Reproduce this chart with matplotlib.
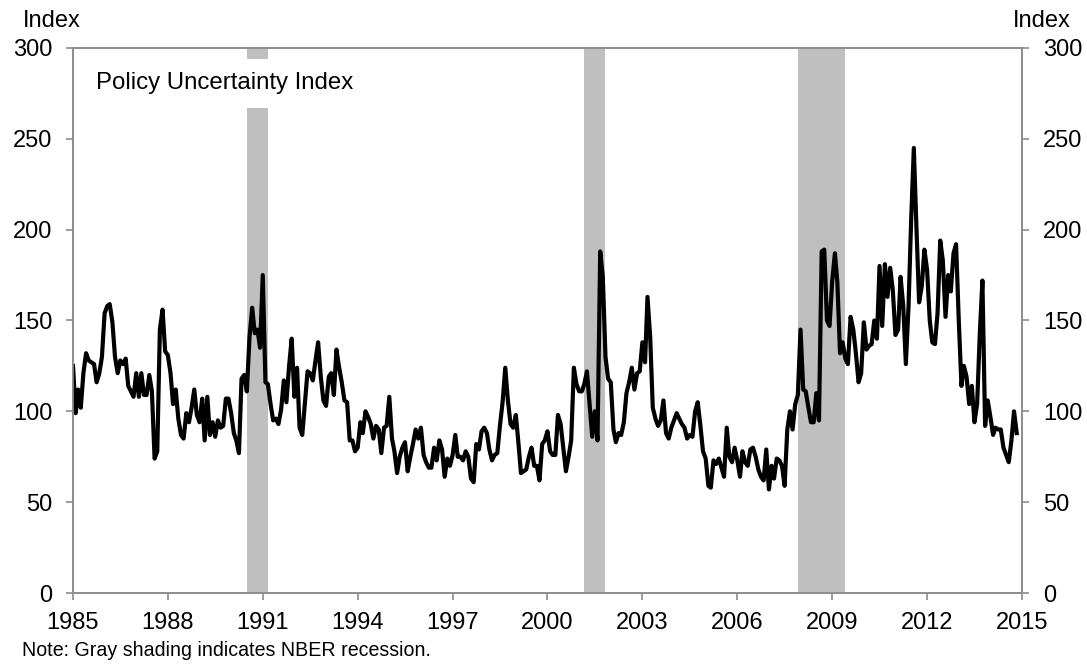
import pandas as pd
import matplotlib
matplotlib.use('Agg')
import matplotlib.pyplot as plt
import matplotlib.dates as mdates

plt.rcParams['font.family'] = ['Liberation Sans', 'DejaVu Sans']

# Monthly policy uncertainty index (Jan 1985 - Nov 2014)
epu_1985_1994 = [125, 99, 112, 102, 121, 132, 128, 127, 126, 116, 121, 130,
                 154, 158, 159, 149, 130, 121, 128, 126, 129, 114, 111, 108,
                 121, 108, 121, 109, 109, 120, 111, 74, 78, 145, 156, 133,
                 131, 121, 104, 112, 96, 87, 85, 99, 94, 102, 112, 98,
                 94, 107, 84, 108, 87, 94, 86, 95, 91, 92, 107, 107,
                 99, 88, 84, 77, 118, 120, 111, 141, 157, 143, 145, 135,
                 175, 116, 115, 104, 95, 96, 93, 101, 117, 105, 125, 140,
                 108, 124, 91, 87, 104, 122, 121, 117, 128, 138, 119, 106,
                 103, 119, 121, 109, 134, 124, 116, 106, 105, 84, 84, 78,
                 80, 94, 88, 100, 97, 93, 85, 92, 90, 77, 91, 92]
epu_1995_2004 = [108, 85, 78, 66, 75, 80, 83, 67, 75, 82, 90, 85,
                 91, 76, 72, 69, 69, 80, 73, 84, 79, 64, 74, 70,
                 76, 87, 75, 75, 73, 78, 75, 63, 61, 82, 79, 89,
                 91, 88, 79, 73, 76, 77, 92, 105, 124, 106, 93, 91,
                 98, 82, 66, 67, 68, 75, 80, 70, 70, 62, 82, 84,
                 89, 78, 76, 76, 98, 93, 80, 67, 75, 84, 124, 115,
                 111, 111, 115, 122, 104, 86, 100, 84, 188, 174, 130, 118,
                 116, 90, 83, 88, 87, 94, 110, 116, 124, 112, 121, 122,
                 138, 127, 163, 141, 102, 96, 92, 95, 106, 88, 85, 91,
                 95, 99, 96, 93, 91, 85, 87, 86, 100, 105, 92, 78]
epu_2005_2014 = [74, 59, 58, 73, 71, 74, 69, 64, 91, 75, 72, 80,
                 73, 64, 78, 72, 70, 79, 80, 75, 68, 64, 62, 79,
                 57, 70, 63, 74, 73, 70, 59, 90, 100, 90, 104, 109,
                 145, 112, 111, 102, 94, 94, 110, 95, 188, 189, 150, 147,
                 172, 187, 171, 132, 138, 129, 126, 152, 145, 132, 116, 121,
                 149, 134, 136, 137, 150, 140, 180, 147, 181, 163, 179, 167,
                 142, 145, 174, 158, 126, 158, 205, 245, 200, 160, 169, 189,
                 178, 150, 138, 137, 154, 194, 183, 152, 175, 166, 187, 192,
                 150, 114, 125, 119, 104, 114, 94, 104, 143, 172, 92, 106,
                 97, 87, 91, 90, 90, 80, 76, 72, 84, 100, 88]

# NBER recessions
rec_start = ['1990-07-01', '2001-03-01', '2007-12-01']
rec_end = ['1991-03-01', '2001-11-01', '2009-06-01']

year_ticks = list(range(1985, 2016, 3))
y_ticks = [0, 50, 100, 150, 200, 250, 300]

epu = epu_1985_1994 + epu_1995_2004 + epu_2005_2014
dates = pd.date_range('1985-01-01', periods=len(epu), freq='MS')

grey = '#8c8c8c'
fig = plt.figure(figsize=(10.87, 6.67), dpi=100)
ax = fig.add_axes([73 / 1087, 1 - 593 / 667, (1022 - 73) / 1087, (593 - 48) / 667])

for s, e in zip(rec_start, rec_end):
    ax.axvspan(pd.Timestamp(s), pd.Timestamp(e), color='#bfbfbf', lw=0, zorder=1)

ax.plot(dates, epu, color='black', lw=3.0, zorder=3, solid_joinstyle='round')

ax.set_xlim(pd.Timestamp('1985-01-01'), pd.Timestamp('2015-01-01'))
ax.set_ylim(0, 300)
ax.set_xticks([pd.Timestamp(f'{y}-01-01') for y in year_ticks])
ax.xaxis.set_major_formatter(mdates.DateFormatter('%Y'))
ax.set_yticks(y_ticks)

ax2 = ax.twinx()
ax2.set_ylim(0, 300)
ax2.set_yticks(y_ticks)

for a in (ax, ax2):
    for sp in a.spines.values():
        sp.set_color(grey)
        sp.set_linewidth(1.2)
    a.tick_params(axis='both', colors=grey, labelcolor='black', labelsize=17,
                  length=5, width=1.2, direction='out', pad=10)
ax.tick_params(axis='x', pad=9)

ax.text(0.024, 0.935, 'Policy Uncertainty Index', transform=ax.transAxes,
        fontsize=17.3, ha='left', va='center', zorder=4,
        bbox=dict(boxstyle='square,pad=0.55', facecolor='white', edgecolor='none'))

fig.text(52 / 1087, 1 - 21 / 667, 'Index', fontsize=17, ha='center', va='center')
fig.text(1042 / 1087, 1 - 21 / 667, 'Index', fontsize=17, ha='center', va='center')
fig.text(22 / 1087, 1 - 651 / 667, 'Note: Gray shading indicates NBER recession.',
         fontsize=14.1, ha='left', va='center')

fig.savefig('out.png', dpi=100)
